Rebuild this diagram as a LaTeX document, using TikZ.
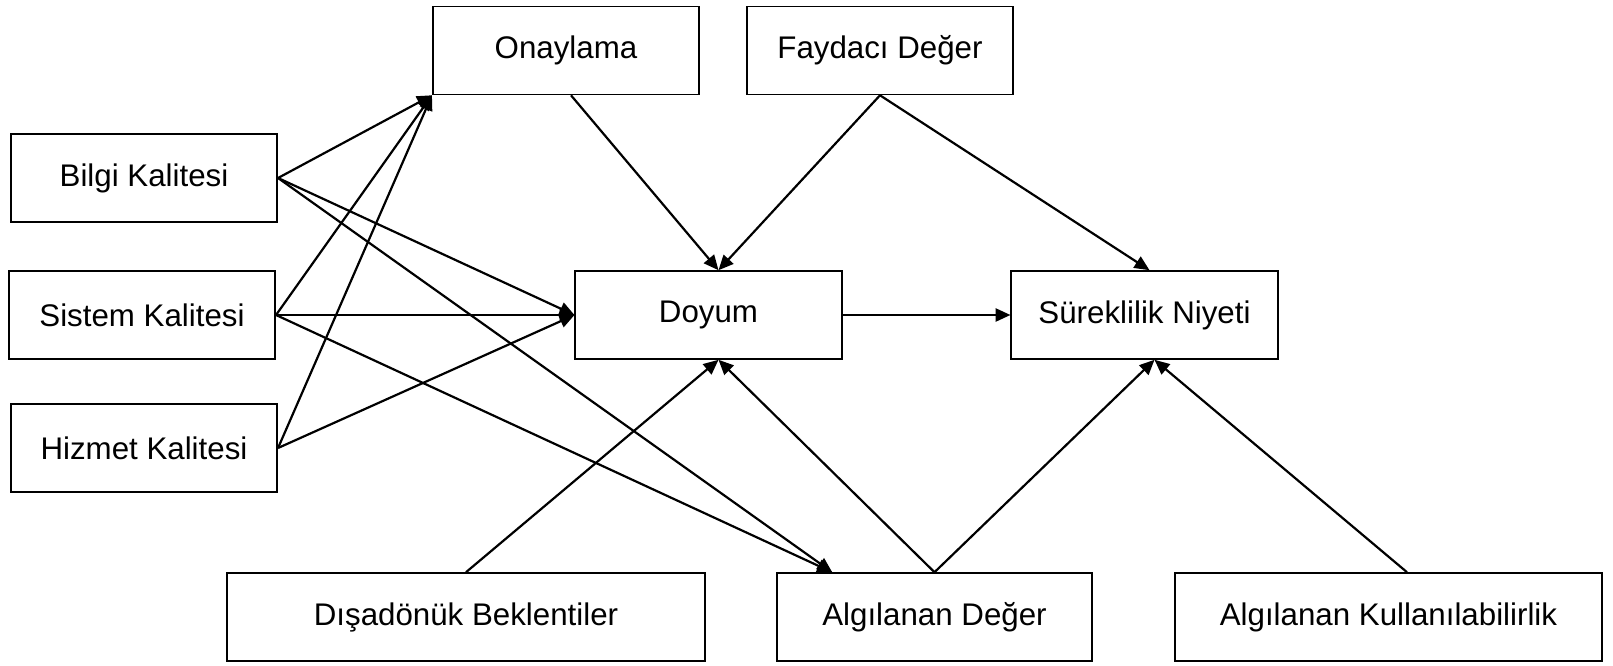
\documentclass[tikz,border=0pt]{standalone}
\usepackage{fontspec}
\setmainfont{Liberation Sans}
\usepackage{tikz}
\usetikzlibrary{positioning, arrows.meta}

\tikzset{
    box/.style={draw, line width=0.9pt, minimum width=5.33cm, minimum height=1.76cm,
        inner sep=0pt, font=\fontsize{17.8}{21}\selectfont},
    link/.style={->, line width=1.25pt}
}

\begin{document}
\begin{tikzpicture}[>={Triangle[length=8.5pt, width=7.5pt]}]
    \useasboundingbox (-2.84,-7.0) rectangle (29.42,6.30);

    \node[box] (sistem) at (0,0) {Sistem Kalitesi};
    \node[box, above of=sistem, node distance=2.74cm, xshift=0.04cm] (bilgi) {Bilgi Kalitesi};
    \node[box, below of=sistem, node distance=2.66cm, xshift=0.04cm] (hizmet) {Hizmet Kalitesi};

    \node[box, right of=sistem, node distance=11.33cm] (doyum) {Doyum};
    \node[box, right of=doyum, node distance=8.72cm] (surek) {Süreklilik Niyeti};

    \node[box, above of=doyum, node distance=5.29cm, xshift=-2.85cm] (onay) {Onaylama};
    \node[box, above of=doyum, node distance=5.29cm, xshift=3.43cm] (fayda) {Faydacı Değer};

    \node[box, below of=doyum, node distance=6.04cm, xshift=-4.85cm, minimum width=9.56cm] (disa) {Dışadönük Beklentiler};
    \node[box, below of=doyum, node distance=6.04cm, xshift=4.52cm, minimum width=6.3cm] (deger) {Algılanan Değer};
    \node[box, below of=surek, node distance=6.04cm, xshift=4.88cm, minimum width=8.54cm] (kullan) {Algılanan Kullanılabilirlik};

    % kalite -> onaylama, doyum, algilanan deger
    \draw[link] (bilgi.east) -- (onay.south west);
    \draw[link] (sistem.east) -- (onay.south west);
    \draw[link] (hizmet.east) -- (onay.south west);
    \draw[link] (bilgi.east) -- (doyum.west);
    \draw[link] (sistem.east) -- (doyum.west);
    \draw[link] (hizmet.east) -- (doyum.west);
    \draw[link] (bilgi.east) -- ([xshift=1.12cm]deger.north west);
    \draw[link] (sistem.east) -- ([xshift=1.12cm]deger.north west);

    % ust kutular
    \draw[link] ([xshift=1mm]onay.south) -- ([xshift=2mm]doyum.north);
    \draw[link] (fayda.south) -- ([xshift=2mm]doyum.north);
    \draw[link] (fayda.south) -- ([xshift=1mm]surek.north);

    \draw[link] (doyum) -- (surek);

    % alt kutular
    \draw[link] (disa.north) -- ([xshift=2mm]doyum.south);
    \draw[link] (deger.north) -- ([xshift=2mm]doyum.south);
    \draw[link] (deger.north) -- ([xshift=2mm]surek.south);
    \draw[link] ([xshift=3.7mm]kullan.north) -- ([xshift=2mm]surek.south);
\end{tikzpicture}
\end{document}
